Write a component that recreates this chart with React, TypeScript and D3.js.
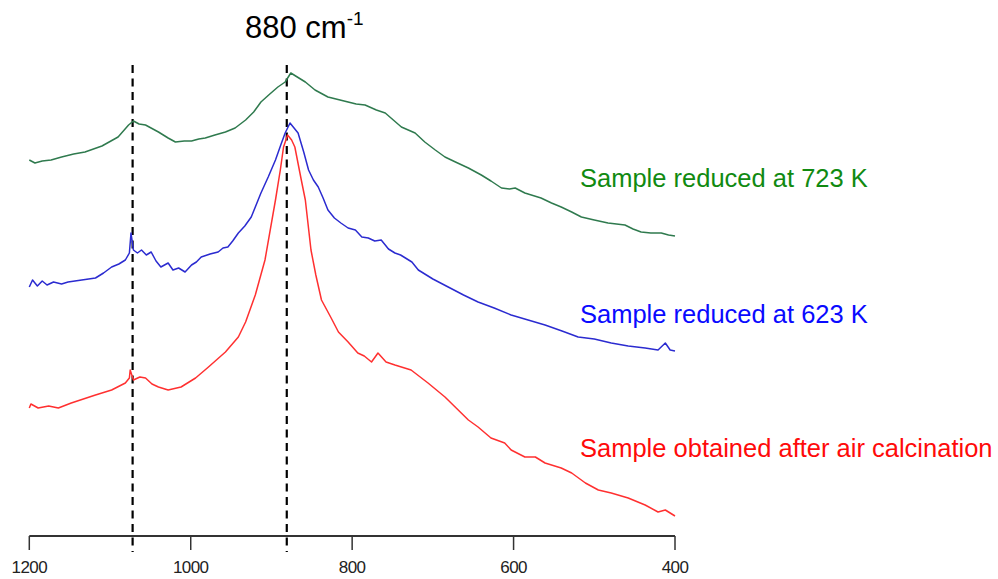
import React from "react";
import * as d3 from "d3";

// Wavenumber (cm-1) and relative intensity (arbitrary units, offset per trace)
const greenWn = [1200, 1193, 1184, 1173, 1160, 1145, 1131, 1110, 1090, 1077, 1071, 1064, 1056, 1040, 1028, 1019, 1008, 999, 990, 982, 970, 957, 945, 932, 922, 913, 902, 892, 883, 876, 868, 858, 846, 830, 815, 805, 795, 784, 770, 759, 749, 739, 722, 710, 697, 685, 672, 656, 640, 628, 615, 605, 598, 586, 566, 553, 541, 528, 516, 500, 483, 462, 452, 442, 430, 417, 408, 400];
const greenVal = [378, 375, 377, 378, 381, 384, 386, 392, 401, 413, 417, 414, 413, 406, 400, 396, 397, 397, 399, 400, 403, 406, 410, 418, 426, 436, 444, 451, 456, 465, 461, 456, 448, 441, 438, 436, 434, 433, 428, 425, 418, 411, 405, 396, 388, 381, 376, 370, 363, 357, 350, 349, 350, 345, 340, 335, 331, 326, 321, 318, 315, 313, 309, 306, 305, 305, 303, 302];

const blueWn = [1200, 1196, 1190, 1184, 1178, 1170, 1160, 1152, 1135, 1118, 1108, 1098, 1089, 1081, 1076, 1074, 1071, 1066, 1061, 1055, 1049, 1043, 1037, 1028, 1022, 1015, 1007, 999, 993, 987, 976, 966, 960, 954, 948, 941, 933, 925, 913, 904, 895, 888, 883, 877, 872, 867, 860, 854, 848, 842, 836, 830, 822, 814, 805, 796, 788, 780, 772, 764, 755, 747, 740, 734, 726, 718, 700, 681, 662, 644, 624, 603, 582, 561, 540, 520, 500, 479, 458, 437, 421, 412, 406, 400];
const blueVal = [251, 258, 252, 257, 253, 256, 254, 256, 258, 260, 265, 271, 274, 278, 285, 305, 288, 285, 288, 283, 286, 277, 271, 275, 268, 270, 266, 273, 276, 281, 284, 286, 290, 291, 297, 305, 312, 321, 345, 361, 378, 394, 405, 415, 410, 405, 386, 368, 358, 351, 340, 328, 320, 315, 310, 308, 301, 300, 297, 298, 289, 285, 283, 280, 276, 268, 259, 251, 243, 236, 230, 223, 218, 213, 207, 201, 199, 195, 192, 190, 188, 195, 188, 187];

const redWn = [1200, 1198, 1189, 1176, 1164, 1148, 1133, 1118, 1098, 1081, 1076, 1075, 1071, 1063, 1056, 1048, 1040, 1028, 1012, 994, 978, 957, 941, 932, 920, 908, 895, 889, 885, 880, 875, 871, 863, 858, 851, 845, 838, 826, 817, 805, 793, 785, 776, 768, 758, 747, 727, 706, 685, 656, 644, 628, 611, 603, 586, 573, 561, 541, 528, 511, 495, 479, 458, 437, 421, 412, 402, 400];
const redVal = [130, 134, 130, 132, 130, 135, 139, 143, 148, 155, 160, 168, 158, 161, 160, 154, 151, 148, 151, 160, 171, 186, 201, 216, 243, 278, 338, 368, 391, 403, 398, 391, 358, 338, 288, 263, 238, 220, 206, 196, 185, 182, 176, 185, 176, 173, 168, 155, 141, 118, 111, 100, 95, 88, 81, 81, 75, 70, 65, 55, 48, 45, 40, 33, 26, 28, 23, 22];

const tickValues = [1200, 1000, 800, 600, 400];
const markerWn = [1072, 881];
const seriesLabels = ["Sample reduced at 723 K", "Sample reduced at 623 K", "Sample obtained after air calcination"];

export default function App() {
  const W = 998, H = 579;
  const x = d3.scaleLinear().domain([1200, 400]).range([29.3, 675]);
  const y = d3.scaleLinear().domain([0, 500]).range([538, 38]);
  const axisY = 536;

  const mk = (wn: number[], v: number[]) =>
    d3.line<number>().x((_, i) => x(wn[i])).y((d) => y(d))(v) || "";

  const series = [
    { wn: greenWn, v: greenVal, stroke: "#2f7a4e", label: seriesLabels[0], lc: "#118a11", ly: 187 },
    { wn: blueWn, v: blueVal, stroke: "#2b2bd0", label: seriesLabels[1], lc: "#0a0aff", ly: 323 },
    { wn: redWn, v: redVal, stroke: "#ff3030", label: seriesLabels[2], lc: "#ff0a0a", ly: 457 },
  ];

  return (
    <svg width={W} height={H} style={{ position: "absolute", left: 0, top: 0, background: "#fff" }}>
      {/* axis */}
      <line x1={x(1200)} x2={x(400)} y1={axisY} y2={axisY} stroke="#333" strokeWidth={2} />
      {tickValues.map((t) => (
        <g key={t}>
          <line x1={x(t)} x2={x(t)} y1={axisY} y2={axisY + 14} stroke="#333" strokeWidth={1.5} />
          <text x={x(t)} y={573} textAnchor="middle" fontFamily="Liberation Sans, Arial, sans-serif" fontSize={17} fill="#222" letterSpacing={-0.6}>
            {t}
          </text>
        </g>
      ))}
      {/* dashed markers */}
      {markerWn.map((m) => (
        <line key={m} x1={x(m)} x2={x(m)} y1={65} y2={552} stroke="#000" strokeWidth={2.2} strokeDasharray="8,5.5" />
      ))}
      {/* traces */}
      {series.map((s, i) => (
        <path key={i} d={mk(s.wn, s.v)} fill="none" stroke={s.stroke} strokeWidth={1.5} strokeLinejoin="round" />
      ))}
      {series.map((s, i) => (
        <text key={"l" + i} x={580} y={s.ly} fontFamily="Liberation Sans, Arial, sans-serif" fontSize={25.5} fill={s.lc}>
          {s.label}
        </text>
      ))}
      {/* title */}
      <text x={245} y={38} fontFamily="Liberation Sans, Arial, sans-serif" fontSize={31} fill="#000">
        880 cm
        <tspan fontSize={19} dy={-13}>-1</tspan>
      </text>
    </svg>
  );
}
